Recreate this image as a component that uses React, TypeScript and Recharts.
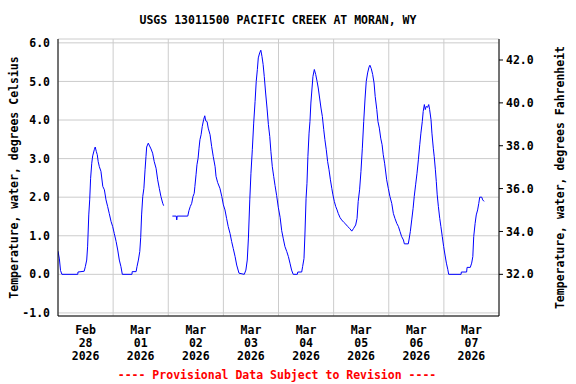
import React from 'react'
import {
  LineChart,
  Line,
  XAxis,
  YAxis,
  CartesianGrid,
  Label,
} from 'recharts'

// hours since Feb 28 2026 00:00, water temperature in deg C (null = gap)
const feb28: [number, number | null][] = [
  [0, 0.6], [0.6, 0.4], [1.1, 0.1], [1.7, 0], [8.6, 0], [8.7, 0.06], [11.4, 0.08],
  [11.9, 0.2], [12.5, 0.37], [12.9, 0.73], [13.4, 1.54], [13.8, 1.93], [14.2, 2.49],
  [14.7, 2.88], [15.1, 3.07], [15.8, 3.23], [16.2, 3.3], [16.7, 3.18], [17.1, 3.1],
  [17.5, 2.92], [18.0, 2.79], [18.7, 2.67], [19.5, 2.28], [20.2, 2.19], [20.9, 1.93],
  [21.6, 1.76], [22.3, 1.58], [23.1, 1.37], [23.8, 1.24],
]
const mar01: [number, number | null][] = [
  [24.5, 1.06], [25.3, 0.85], [26.0, 0.63], [26.7, 0.37], [27.4, 0.2], [28.0, 0],
  [32.2, 0], [32.3, 0.07], [34.0, 0.07], [34.4, 0.2], [35.0, 0.37], [35.6, 0.59],
  [36.0, 0.95], [36.4, 1.54], [36.9, 2.02], [37.4, 2.23], [37.9, 2.71], [38.3, 3.05],
  [38.6, 3.3], [39.3, 3.4], [39.7, 3.35], [40.5, 3.25], [41.2, 3.14], [41.9, 2.92],
  [42.7, 2.75], [43.4, 2.45], [44.1, 2.23], [44.8, 2.02], [45.6, 1.84], [46.0, 1.78],
  [47.5, null],
]
const mar02: [number, number | null][] = [
  [49.8, 1.51], [51.5, 1.51], [51.7, 1.41], [51.9, 1.51], [56.5, 1.51], [57.0, 1.65],
  [57.6, 1.76], [58.2, 1.84], [58.8, 2.02], [59.3, 2.1], [59.6, 2.28], [60.1, 2.58],
  [60.5, 2.84], [61.0, 3.01], [61.4, 3.27], [61.8, 3.49], [62.3, 3.62], [62.8, 3.83],
  [63.4, 4.01], [63.9, 4.11], [64.3, 3.98], [64.9, 3.96], [65.4, 3.79], [66.2, 3.62],
  [66.9, 3.31], [67.6, 3.05], [68.4, 2.79], [68.8, 2.54], [69.5, 2.38], [70.5, 2.23],
  [71.3, 2.02],
]
const mar03: [number, number | null][] = [
  [72.0, 1.8], [72.7, 1.67], [73.4, 1.45], [74.1, 1.24], [74.9, 1.06], [75.6, 0.85],
  [76.3, 0.67], [77.1, 0.46], [77.8, 0.24], [78.8, 0.03], [81.1, 0], [81.8, 0.11],
  [82.4, 0.37], [82.9, 0.94], [83.5, 1.93], [84.0, 2.62], [84.6, 3.23], [85.2, 3.92],
  [85.8, 4.48], [86.3, 5.0], [86.8, 5.31], [87.2, 5.61], [87.8, 5.74], [88.3, 5.81],
  [88.8, 5.65], [89.3, 5.44], [89.8, 5.13], [90.4, 4.7], [91.0, 4.31], [91.6, 3.88],
  [92.2, 3.57], [92.7, 3.18], [93.3, 2.79], [93.9, 2.54], [94.5, 2.3], [95.2, 2.04],
  [95.9, 1.74],
]
const mar04: [number, number | null][] = [
  [96.7, 1.48], [97.4, 1.13], [98.1, 0.92], [98.8, 0.72], [99.6, 0.59], [100.3, 0.46],
  [101.0, 0.29], [101.7, 0.11], [102.4, 0], [104.2, 0], [104.4, 0.06], [106.1, 0.06],
  [106.5, 0.2], [107.1, 0.41], [107.5, 1.02], [108.0, 1.97], [108.4, 2.36], [108.8, 3.05],
  [109.3, 3.66], [109.7, 3.96], [110.1, 4.44], [110.6, 4.83], [111.0, 5.13], [111.6, 5.31],
  [112.2, 5.18], [112.8, 5.0], [113.3, 4.83], [113.9, 4.57], [114.5, 4.31], [115.1, 4.09],
  [115.7, 3.75], [116.2, 3.49], [116.8, 3.23], [117.4, 2.92], [118.0, 2.71], [118.6, 2.45],
  [119.2, 2.23], [119.7, 2.06],
]
const mar05: [number, number | null][] = [
  [120.3, 1.89], [120.9, 1.76], [121.5, 1.67], [122.0, 1.58], [122.8, 1.47], [123.5, 1.41],
  [124.4, 1.35], [125.3, 1.3], [126.1, 1.24], [127.0, 1.19], [127.9, 1.12], [128.7, 1.19],
  [129.6, 1.28], [130.2, 1.45], [130.7, 1.89], [131.3, 2.19], [131.9, 2.67], [132.5, 3.27],
  [133.1, 3.96], [133.7, 4.57], [134.2, 5.0], [134.8, 5.22], [135.4, 5.37], [135.8, 5.42],
  [136.4, 5.33], [137.0, 5.18], [137.6, 4.96], [138.1, 4.61], [138.8, 4.27], [139.3, 3.96],
  [139.9, 3.79], [140.5, 3.53], [141.1, 3.36], [141.6, 3.1], [142.2, 2.88], [143.1, 2.45],
  [143.8, 2.23],
]
const mar06: [number, number | null][] = [
  [144.5, 2.02], [145.3, 1.84], [146.0, 1.58], [146.7, 1.45], [147.5, 1.32], [148.2, 1.24],
  [148.9, 1.11], [149.6, 0.98], [150.4, 0.89], [150.8, 0.79], [152.5, 0.79], [152.8, 0.89],
  [153.4, 1.11], [154.0, 1.41], [154.6, 1.71], [155.1, 2.02], [155.7, 2.32], [156.3, 2.62],
  [156.9, 2.97], [157.5, 3.36], [158.0, 3.66], [158.6, 3.96], [159.0, 4.22], [159.5, 4.4],
  [159.9, 4.27], [160.3, 4.35], [160.9, 4.33], [161.4, 4.4], [161.8, 4.27], [162.4, 4.01],
  [162.8, 3.66], [163.4, 3.27], [163.8, 3.05], [164.3, 2.71], [164.7, 2.41], [165.1, 2.06],
  [165.6, 1.76], [166.2, 1.45], [166.7, 1.24], [167.3, 0.98], [167.9, 0.72],
]
const mar07: [number, number | null][] = [
  [168.5, 0.5], [169.1, 0.29], [169.7, 0.13], [170.1, 0], [175.5, 0], [175.6, 0.06],
  [177.9, 0.06], [178.1, 0.18], [179.5, 0.18], [180.1, 0.29], [180.6, 0.46], [181.0, 0.98],
  [181.6, 1.32], [182.1, 1.54], [182.7, 1.67], [183.2, 1.84], [183.6, 2.0], [184.5, 2.0],
  [184.9, 1.93], [185.5, 1.89],
]

// tick positions (hours) and labels
const dayLabels = [
  ['Feb', '28', '2026'],
  ['Mar', '01', '2026'],
  ['Mar', '02', '2026'],
  ['Mar', '03', '2026'],
  ['Mar', '04', '2026'],
  ['Mar', '05', '2026'],
  ['Mar', '06', '2026'],
  ['Mar', '07', '2026'],
]
const noonTicks = [12, 36, 60, 84, 108, 132, 156, 180]
const midnightTicks = [24, 48, 72, 96, 120, 144, 168]
const celsiusTicks = [-1, 0, 1, 2, 3, 4, 5, 6]
const fahrenheitTicks = [32, 34, 36, 38, 40, 42]

const cDomain: [number, number] = [-1.08, 6.1]
const fDomain: [number, number] = [cDomain[0] * 1.8 + 32, cDomain[1] * 1.8 + 32]

const data = [...feb28, ...mar01, ...mar02, ...mar03, ...mar04, ...mar05, ...mar06, ...mar07].map(
  ([t, c]) => ({ t, c })
)

const FONT = '"DejaVu Sans Mono", "Liberation Mono", monospace'
const tickStyle = { fill: '#000', fontSize: 11.5, fontFamily: FONT, fontWeight: 'bold' }

function DayTick({ x, y, payload }: any) {
  const idx = noonTicks.indexOf(payload.value)
  const lines = dayLabels[idx] || []
  return (
    <text x={x} y={y} textAnchor="middle" fill="#000" fontSize={11.5} fontFamily={FONT} fontWeight="bold">
      {lines.map((s, i) => (
        <tspan key={i} x={x} y={y + 10 + i * 13}>{s}</tspan>
      ))}
    </text>
  )
}

function SideTitle({ viewBox, value, dx }: any) {
  const cx = viewBox.x + dx
  const cy = viewBox.y + viewBox.height / 2
  return (
    <text
      x={cx}
      y={cy}
      transform={`rotate(-90, ${cx}, ${cy})`}
      textAnchor="middle"
      dominantBaseline="central"
      fill="#000"
      fontSize={11.5}
      fontFamily={FONT}
      fontWeight="bold"
    >
      {value}
    </text>
  )
}

export default function App() {
  return (
    <div style={{ position: 'absolute', left: 0, top: 0, width: 576, height: 384, background: '#fff' }}>
      <LineChart width={576} height={384} data={data} margin={{ top: 39, right: 0, bottom: 8, left: 0 }}>
        <CartesianGrid xAxisId="days" yAxisId="c" stroke="#cccccc" strokeWidth={1} />
        <XAxis
          xAxisId="main"
          dataKey="t"
          type="number"
          domain={[0, 192]}
          ticks={noonTicks}
          allowDataOverflow
          height={60}
          tickLine={false}
          axisLine={{ stroke: '#000' }}
          tick={<DayTick />}
          interval={0}
        />
        <XAxis
          xAxisId="days"
          dataKey="t"
          type="number"
          domain={[0, 192]}
          ticks={midnightTicks}
          allowDataOverflow
          height={0}
          hide
        />
        <XAxis
          xAxisId="top"
          orientation="top"
          dataKey="t"
          type="number"
          domain={[0, 192]}
          allowDataOverflow
          height={0}
          tick={false}
          tickLine={false}
          axisLine={{ stroke: '#000' }}
        />
        <YAxis
          yAxisId="c"
          type="number"
          domain={cDomain}
          ticks={celsiusTicks}
          allowDataOverflow
          width={58}
          tickLine={false}
          axisLine={{ stroke: '#000' }}
          tick={tickStyle}
          tickFormatter={(v: number) => v.toFixed(1)}
          interval={0}
        >
          <Label content={<SideTitle dx={14} value="Temperature, water, degrees Celsius" />} />
        </YAxis>
        <YAxis
          yAxisId="f"
          orientation="right"
          type="number"
          domain={fDomain}
          ticks={fahrenheitTicks}
          allowDataOverflow
          width={77}
          tickSize={4}
          tickMargin={3}
          tickLine={{ stroke: '#000' }}
          axisLine={{ stroke: '#000' }}
          tick={tickStyle}
          tickFormatter={(v: number) => v.toFixed(1)}
          interval={0}
        >
          <Label content={<SideTitle dx={61} value="Temperature, water, degrees Fahrenheit" />} />
        </YAxis>
        <Line
          xAxisId="main"
          yAxisId="c"
          dataKey="c"
          type="linear"
          stroke="#0000ff"
          strokeWidth={1}
          dot={false}
          activeDot={false}
          connectNulls={false}
          isAnimationActive={false}
        />
        <text x={278} y={24} textAnchor="middle" fill="#000" fontSize={11.5} fontFamily={FONT} fontWeight="bold">
          USGS 13011500 PACIFIC CREEK AT MORAN, WY
        </text>
        <text x={277} y={379} textAnchor="middle" fill="#ff0000" fontSize={11.5} fontFamily={FONT} fontWeight="bold">
          ---- Provisional Data Subject to Revision ----
        </text>
      </LineChart>
    </div>
  )
}
